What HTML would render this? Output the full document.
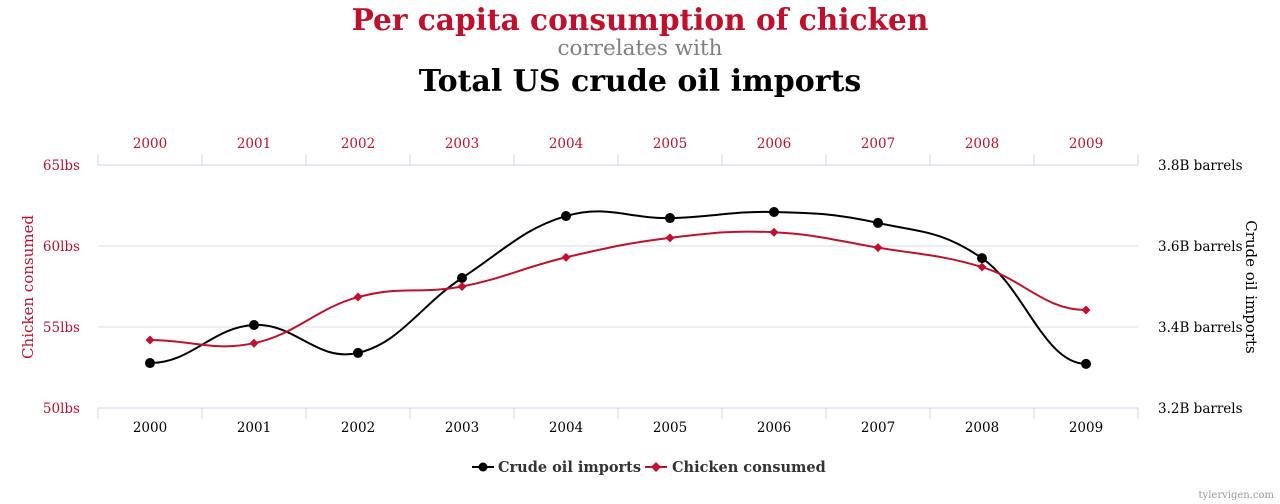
<!DOCTYPE html>
<html><head><meta charset="utf-8"><style>
body{margin:0;background:#fff;width:1280px;height:504px;overflow:hidden}
svg{display:block;font-family:"DejaVu Serif","Liberation Serif",serif}
</style></head><body>
<svg id="chart" width="1280" height="504">
<text x="640" y="30" text-anchor="middle" font-size="29.6" font-weight="bold" fill="#c0102b">Per capita consumption of chicken</text>
<text x="640" y="55" text-anchor="middle" font-size="21.5" fill="#808080">correlates with</text>
<text x="640" y="91" text-anchor="middle" font-size="30" font-weight="bold" fill="#000">Total US crude oil imports</text>
<text transform="translate(33,287) rotate(-90)" text-anchor="middle" font-size="15" fill="#c0102b">Chicken consumed</text>
<text transform="translate(1246,287) rotate(90)" text-anchor="middle" font-size="15" fill="#000">Crude oil imports</text>
<g id="grid"></g><g id="axes"></g><g id="series"></g>
<g>
<g>
<line x1="472" y1="467" x2="494" y2="467" stroke="#000" stroke-width="2"/><circle cx="483" cy="467" r="4.5" fill="#000"/>
<text x="498" y="472" font-size="14.5" font-weight="bold" fill="#333">Crude oil imports</text></g>
<g>
<line x1="645" y1="467" x2="667" y2="467" stroke="#c0102b" stroke-width="2"/><path d="M656 462 L661 467 L656 472 L651 467Z" fill="#c0102b"/>
<text x="672" y="472" font-size="14.5" font-weight="bold" fill="#333">Chicken consumed</text></g>
</g>
<text x="1274" y="498" text-anchor="end" font-size="10" fill="#999">tylervigen.com</text>
</svg>
<script>
const years=["2000","2001","2002","2003","2004","2005","2006","2007","2008","2009"];
const chicken=[54.2,54.0,56.85,57.5,59.3,60.5,60.85,59.9,58.7,56.05];
const oil=[3.311,3.405,3.336,3.521,3.674,3.669,3.684,3.657,3.570,3.309];
const leftTicks=[50,55,60,65];
const rightTicks=[3.2,3.4,3.6,3.8];
const L=98,R=1138,T=165,B=408,NS="http://www.w3.org/2000/svg";
const bw=(R-L)/years.length;
const xs=i=>L+bw*(i+0.5);
const yl=v=>B-(v-50)/15*(B-T);
const yr=v=>B-(v-3.2)/0.6*(B-T);
function mk(tag,attrs,parent,text){const e=document.createElementNS(NS,tag);for(const k in attrs)e.setAttribute(k,attrs[k]);if(text!==undefined)e.textContent=text;parent.appendChild(e);return e;}
const grid=document.getElementById('grid'),axes=document.getElementById('axes'),ser=document.getElementById('series');
leftTicks.forEach((t,i)=>{const y=yl(t);
 if(i>0&&i<leftTicks.length-1){const g=mk('line',{x1:L,x2:R,y1:y,y2:y,stroke:'#d8dde6','stroke-width':1},grid);
 
 }
 const tl=mk('text',{x:80,y:y+5,'text-anchor':'end','font-size':13.5,fill:'#c0102b'},axes,t+'lbs');
 
 });
rightTicks.forEach(t=>{const tr=mk('text',{x:1158,y:yr(t)+5,'font-size':13.5,fill:'#000'},axes,t.toFixed(1)+'B barrels');
 
 });
mk('line',{x1:L,x2:R,y1:T,y2:T,stroke:'#ccd6eb'},axes);
mk('line',{x1:L,x2:R,y1:B,y2:B,stroke:'#ccd6eb'},axes);
for(let i=0;i<=years.length;i++){const x=L+bw*i;
 mk('line',{x1:x,x2:x,y1:T-11,y2:T,stroke:'#ccd6eb'},axes);
 mk('line',{x1:x,x2:x,y1:B,y2:B+11,stroke:'#ccd6eb'},axes);}
years.forEach((y,i)=>{
 const a=mk('text',{x:xs(i),y:148,'text-anchor':'middle','font-size':13.5,fill:'#c0102b'},axes,y);
 
 
 const b=mk('text',{x:xs(i),y:432,'text-anchor':'middle','font-size':13.5,fill:'#000'},axes,y);
 
 });
function spline(pts){const n=pts.length,den=2.5;
 const tan=pts.map((p,i)=>{if(i===0||i===n-1)return 0;return (pts[i+1][1]-pts[i-1][1])/(pts[i+1][0]-pts[i-1][0]);});
 let d='M'+pts[0][0]+' '+pts[0][1];
 for(let i=1;i<n;i++){const p=pts[i-1],c=pts[i],dx=(c[0]-p[0])/den;
  const c1=[p[0]+dx,p[1]+tan[i-1]*dx],c2=[c[0]-dx,c[1]-tan[i]*dx];
  d+=' C'+c1[0]+' '+c1[1]+' '+c2[0]+' '+c2[1]+' '+c[0]+' '+c[1];}
 return d;}
const op=oil.map((v,i)=>[xs(i),yr(v)]),cp=chicken.map((v,i)=>[xs(i),yl(v)]);
const ol=mk('path',{d:spline(op),fill:'none',stroke:'#000','stroke-width':2},ser);


const cl=mk('path',{d:spline(cp),fill:'none',stroke:'#c0102b','stroke-width':2},ser);


op.forEach(p=>{const m=mk('circle',{cx:p[0],cy:p[1],r:5,fill:'#000'},ser);
 
 });
cp.forEach(p=>{const m=mk('path',{d:`M${p[0]} ${p[1]-4.5} L${p[0]+4.5} ${p[1]} L${p[0]} ${p[1]+4.5} L${p[0]-4.5} ${p[1]}Z`,fill:'#c0102b'},ser);
 
 });
</script>
</body></html>
